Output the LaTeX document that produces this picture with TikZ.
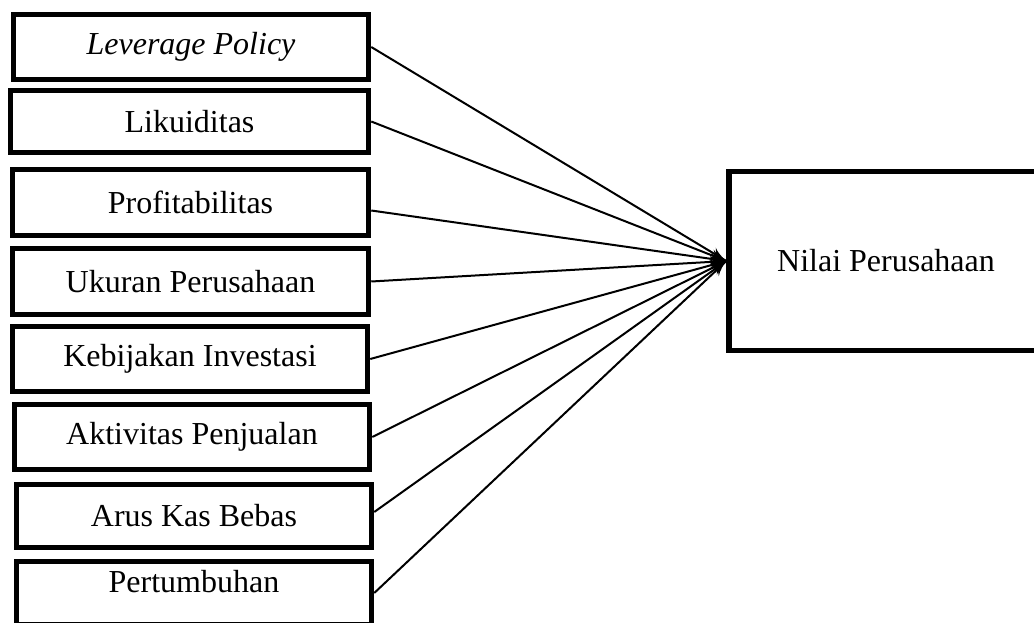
\documentclass[tikz,border=0pt]{standalone}
\usepackage{fontspec}
\setmainfont{Liberation Serif}
\usetikzlibrary{arrows}
\usetikzlibrary{decorations.markings}
\tikzset{var/.style = {draw, line width=5.5pt, minimum width=355pt, minimum height=65pt,
                       inner sep=0, font=\fontsize{32}{38}\selectfont}}
\tikzset{link/.style = {line width=2pt,
                        decoration={markings,
                                    mark=at position 1 with {\arrow[scale=1.8]{latex'}}},
                        postaction={decorate}}}

\begin{document}
\begin{tikzpicture}[x=1pt, y=-1pt]
    \useasboundingbox (0, 0) rectangle (1034, 623);
    \clip (0, 0) rectangle (1034, 623);

    \node [var] (lev) at (191, 47) {\itshape Leverage Policy};
    \node [var, minimum width=358pt, minimum height=62pt] (lik) at (189.5, 121.5) {Likuiditas};
    \node [var, minimum width=356pt, minimum height=66pt] (prof) at (190.5, 202.5) {Profitabilitas};
    \node [var, minimum width=356pt, minimum height=66pt] (ukuran) at (190.5, 281.5) {Ukuran Perusahaan};
    \node [var] (kebijakan) at (190, 359) {Kebijakan Investasi};
    \node [var] (aktivitas) at (192, 437) {Aktivitas Penjualan};
    \node [var, minimum height=63pt] (arus) at (194, 516) {Arus Kas Bebas};
    \node [var, minimum height=63pt, text depth=24pt] (tumbuh) at (194, 593) {Pertumbuhan};

    \node [var, minimum width=314pt, minimum height=179pt] (nilai) at (886, 261) {Nilai Perusahaan};

    \draw [link] (lev.east) -- (nilai.west);
    \draw [link] (lik.east) -- (nilai.west);
    \draw [link] ([yshift=-8pt]prof.east) -- (nilai.west);
    \draw [link] (ukuran.east) -- (nilai.west);
    \draw [link] (kebijakan.east) -- (nilai.west);
    \draw [link] (aktivitas.east) -- (nilai.west);
    \draw [link] ([yshift=4pt]arus.east) -- (nilai.west);
    \draw [link] (tumbuh.east) -- (nilai.west);
\end{tikzpicture}
\end{document}
